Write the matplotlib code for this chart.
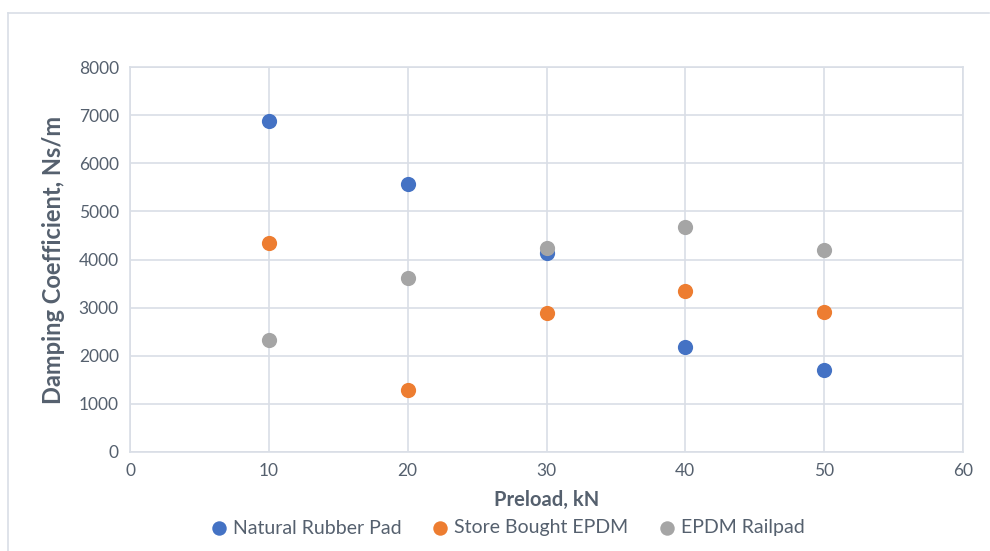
import matplotlib
matplotlib.use("Agg")
import matplotlib.pyplot as plt
from matplotlib.lines import Line2D

plt.rcParams["font.family"] = ["Lato", "DejaVu Sans"]

preload = [10, 20, 30, 40, 50]
natural_rubber = [6880, 5570, 4140, 2190, 1710]
store_epdm = [4350, 1290, 2880, 3350, 2910]
epdm_railpad = [2320, 3620, 4240, 4670, 4200]

series = [
    ("Natural Rubber Pad", natural_rubber, "#4472C4"),
    ("Store Bought EPDM", store_epdm, "#ED7D31"),
    ("EPDM Railpad", epdm_railpad, "#A5A5A5"),
]

TEXT = "#55606E"
GRID = "#D9DEE6"

fig = plt.figure(figsize=(9.9, 5.51), dpi=100)
W, H = 990, 551

# chart-area frame (left and top edges only)
fig.add_artist(Line2D([8 / W, 8 / W], [0, 1 - 13 / H], color=GRID, lw=1.2))
fig.add_artist(Line2D([8 / W, 989 / W], [1 - 13 / H, 1 - 13 / H], color=GRID, lw=1.2))

ax = fig.add_axes([130 / W, (H - 452) / H, (963 - 130) / W, (452 - 67) / H])
for name, vals, col in series:
    ax.scatter(preload, vals, s=120, color=col, label=name, zorder=3, linewidths=0)

ax.set_xlim(0, 60)
ax.set_ylim(0, 8000)
ax.set_xticks(range(0, 61, 10))
ax.set_yticks(range(0, 8001, 1000))
ax.grid(True, color=GRID, lw=1.2)
ax.set_axisbelow(True)
for s in ax.spines.values():
    s.set_color(GRID)
    s.set_linewidth(1.2)
ax.tick_params(length=0, labelsize=12.5, colors=TEXT, pad=8)

ax.set_xlabel("Preload, kN", fontsize=14.5, fontweight="bold", color=TEXT, labelpad=8)
ax.set_ylabel("Damping Coefficient, Ns/m", fontsize=17, fontweight="bold", color=TEXT, labelpad=10)

fig.legend(*ax.get_legend_handles_labels(), loc="center", bbox_to_anchor=(508 / W, 1 - 528 / H),
           ncol=3, frameon=False, fontsize=14, labelcolor=TEXT, handlelength=0.8,
           handletextpad=0.3, columnspacing=1.6, markerscale=0.95, borderaxespad=0)

fig.savefig("out.png", dpi=100)
